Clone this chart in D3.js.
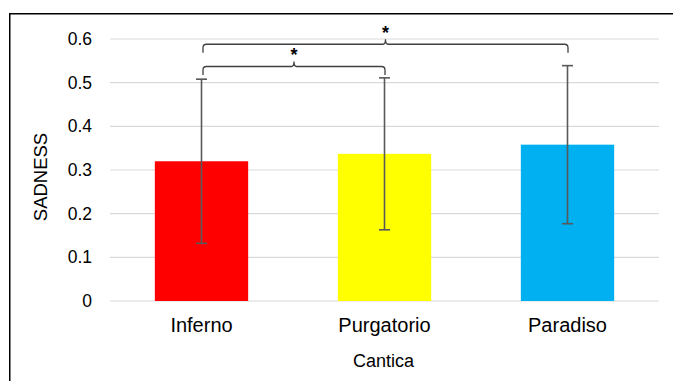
<!DOCTYPE html>
<html>
<head>
<meta charset="utf-8">
<script src="https://cdn.jsdelivr.net/npm/d3@7"></script>
<style>
  html, body { margin: 0; padding: 0; background: #fff; }
  svg { display: block; font-family: "Liberation Sans", Arial, sans-serif; }
</style>
</head>
<body>
<svg id="chart" width="673" height="381"></svg>
<script>
// Mean sadness score per cantica, with standard deviation
const categories = ["Inferno", "Purgatorio", "Paradiso"];
const means = [0.320, 0.337, 0.358];
const sds = [0.188, 0.174, 0.181];
const colors = ["#ff0000", "#ffff00", "#00b0f0"];
const yTicks = [0, 0.1, 0.2, 0.3, 0.4, 0.5, 0.6];
// Significance brackets: pairs of category indices and bracket level
const comparisons = [
  { from: 0, to: 1, level: 0.537, label: "*" },
  { from: 0, to: 2, level: 0.588, label: "*" }
];

const svg = d3.select("#chart");
const plot = { left: 110, right: 659, top: 39, bottom: 301 };

// outer frame
svg.append("rect")
  .attr("x", 9.75).attr("y", 13.75)
  .attr("width", 720).attr("height", 420)
  .attr("fill", "none").attr("stroke", "#000").attr("stroke-width", 1.5);

const x = d3.scaleBand()
  .domain(categories)
  .range([plot.left, plot.right])
  .paddingInner(0.49)
  .paddingOuter(0.245);

const y = d3.scaleLinear()
  .domain([0, 0.6])
  .range([plot.bottom, plot.top]);

// gridlines
svg.append("g")
  .selectAll("line")
  .data(yTicks)
  .join("line")
  .attr("x1", plot.left).attr("x2", plot.right)
  .attr("y1", d => y(d)).attr("y2", d => y(d))
  .attr("stroke", "#d9d9d9").attr("stroke-width", 1.2);

// y axis labels
const yAxis = d3.axisLeft(y).tickValues(yTicks).tickSize(0).tickPadding(0)
  .tickFormat(d => d === 0 ? "0" : d3.format(".1f")(d));
const gy = svg.append("g").attr("transform", `translate(92,0)`).call(yAxis);
gy.select(".domain").remove();
gy.selectAll("text")
  .attr("font-size", 17.5)
  .attr("fill", "#000")
  .attr("font-family", "Liberation Sans, Arial, sans-serif");

// bars
svg.append("g")
  .selectAll("rect")
  .data(categories)
  .join("rect")
  .attr("x", d => x(d))
  .attr("width", x.bandwidth())
  .attr("y", (d, i) => y(means[i]))
  .attr("height", (d, i) => y(0) - y(means[i]))
  .attr("fill", (d, i) => colors[i]);

// error bars
const eb = svg.append("g").attr("stroke", "#595959").attr("stroke-width", 1.6);
categories.forEach((c, i) => {
  const cx = x(c) + x.bandwidth() / 2;
  const lo = y(means[i] - sds[i]);
  const hi = y(means[i] + sds[i]);
  eb.append("line").attr("x1", cx).attr("x2", cx).attr("y1", lo).attr("y2", hi);
  eb.append("line").attr("x1", cx - 5.5).attr("x2", cx + 5.5).attr("y1", lo).attr("y2", lo);
  eb.append("line").attr("x1", cx - 5.5).attr("x2", cx + 5.5).attr("y1", hi).attr("y2", hi);
});

// x axis labels
const xAxis = d3.axisBottom(x).tickSize(0).tickPadding(0);
const gx = svg.append("g").attr("transform", `translate(0,${plot.bottom})`).call(xAxis);
gx.select(".domain").remove();
gx.selectAll("text")
  .attr("dy", null)
  .attr("y", 31)
  .attr("font-size", 20)
  .attr("fill", "#000")
  .attr("font-family", "Liberation Sans, Arial, sans-serif");

// axis titles
svg.append("text")
  .attr("x", (plot.left + plot.right) / 2 - 1)
  .attr("y", 367)
  .attr("text-anchor", "middle")
  .attr("font-size", 18)
  .attr("fill", "#000")
  .text("Cantica");

svg.append("text")
  .attr("transform", `translate(47,177) rotate(-90)`)
  .attr("text-anchor", "middle")
  .attr("font-size", 18.5)
  .attr("fill", "#000")
  .text("SADNESS");

// significance brackets
const br = svg.append("g");
comparisons.forEach(cmp => {
  const x0 = x(categories[cmp.from]) + x.bandwidth() / 2 + 1.5;
  const x1 = x(categories[cmp.to]) + x.bandwidth() / 2 + 0.5;
  const yl = y(cmp.level);
  const mid = (x0 + x1) / 2;
  const drop = 8.5, r = 3.5, bump = 5;
  const p = d3.path();
  p.moveTo(x0, yl + drop);
  p.lineTo(x0, yl + r);
  p.quadraticCurveTo(x0, yl, x0 + r, yl);
  p.lineTo(mid - 2.5, yl);
  p.quadraticCurveTo(mid, yl, mid, yl - bump);
  p.quadraticCurveTo(mid, yl, mid + 2.5, yl);
  p.lineTo(x1 - r, yl);
  p.quadraticCurveTo(x1, yl, x1, yl + r);
  p.lineTo(x1, yl + drop);
  br.append("path")
    .attr("d", p.toString())
    .attr("fill", "none")
    .attr("stroke", "#404040")
    .attr("stroke-width", 1.3);
  br.append("text")
    .attr("x", mid)
    .attr("y", yl - 5.5)
    .attr("text-anchor", "middle")
    .attr("font-size", 18)
    .attr("font-weight", "bold")
    .attr("fill", "#000")
    .text(cmp.label);
});
</script>
</body>
</html>
